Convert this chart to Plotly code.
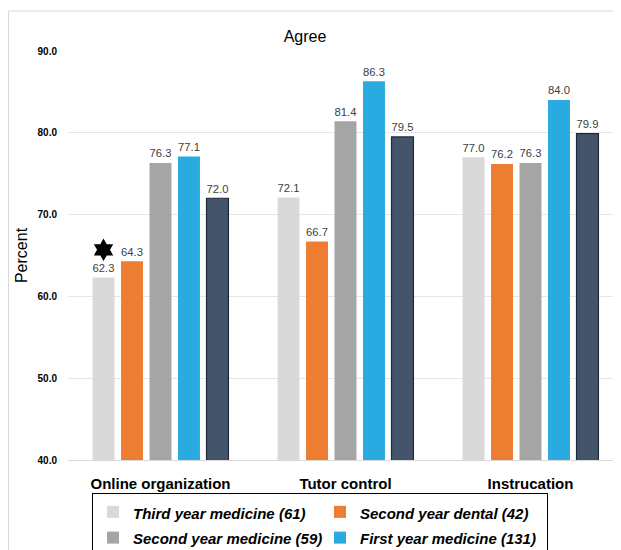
import plotly.graph_objects as go

categories = ["Online organization", "Tutor control", "Instrucation"]
series_names = ["Third year medicine (61)", "Second year dental (42)",
                "Second year medicine (59)", "First year medicine (131)", "Total (293)"]
third_med = [62.3, 72.1, 77.0]
second_dental = [64.3, 66.7, 76.2]
second_med = [76.3, 81.4, 76.3]
first_med = [77.1, 86.3, 84.0]
total = [72.0, 79.5, 79.9]
series_values = [third_med, second_dental, second_med, first_med, total]
colors = ["#D9D9D9", "#ED7D31", "#A5A5A5", "#29ABE2", "#44546A"]
show_leg = [True, True, True, True, False]
y_ticks = [40, 50, 60, 70, 80, 90]
star_group = 0
star_series = 0

bargap = 0.23
n = len(series_names)
xs = list(range(len(categories)))

fig = go.Figure()
for i, (name, vals) in enumerate(zip(series_names, series_values)):
    fig.add_trace(go.Bar(
        x=xs, y=vals, name=f"<span style='font-size:15px'>{name}</span>",
        marker_color=colors[i],
        marker_line_color="#1f2a38" if i == 4 else colors[i],
        marker_line_width=1.2 if i == 4 else 0,
        text=[f"{v:.1f}" for v in vals], textposition="outside",
        textfont=dict(size=13, color="#404040", family="Liberation Sans"),
        cliponaxis=False, showlegend=show_leg[i],
    ))

# significance star above first bar of first group
slot = (1 - bargap) / n
star_x = star_group - (1 - bargap) / 2 + slot * (star_series + 0.5)
star_y = series_values[star_series][star_group] + 3.4
fig.add_trace(go.Scatter(x=[star_x], y=[star_y], mode="markers",
                         marker=dict(symbol="hexagram", size=17, color="black"),
                         showlegend=False, hoverinfo="skip", cliponaxis=False))

W, H = 621, 600
fig.update_layout(
    width=W, height=H,
    barmode="group", bargap=bargap, bargroupgap=0.23,
    plot_bgcolor="white", paper_bgcolor="white",
    margin=dict(l=60, r=6, t=43, b=H - 452),
    font=dict(family="Liberation Sans", color="#000000"),
    title=dict(text="Agree", x=297 / W, xanchor="center", y=1 - 28 / H,
               yanchor="middle", font=dict(size=16, color="#000000")),
    xaxis=dict(range=[-0.5, 2.5], tickvals=xs, ticktext=categories,
               showgrid=False, zeroline=False, showline=True, linecolor="#D9D9D9",
               linewidth=1, ticks="", ticklen=0, automargin=False,
               ticklabelstandoff=10,
               tickfont=dict(size=15, weight="bold", color="#000000")),
    yaxis=dict(range=[40, 90], tickvals=y_ticks, tickformat=".1f",
               showgrid=True, gridcolor="#E6E6E6", gridwidth=1, zeroline=False,
               automargin=False,
               tickfont=dict(size=10, weight="bold", color="#000000"),
               title=dict(text="Percent", font=dict(size=16, color="#000000"), standoff=5),
               ticklabelstandoff=10),
    legend=dict(orientation="h", x=(92 - 68) / 555, xanchor="left",
                y=(460 - 493) / 409, yanchor="top",
                bordercolor="#000000", borderwidth=1, bgcolor="white",
                entrywidth=182, entrywidthmode="pixels",
                font=dict(size=17.5, style="italic", weight="bold", color="#000000"),
                itemwidth=30, tracegroupgap=0),
    shapes=[dict(type="rect", xref="paper", yref="paper",
                 x0=(8.5 - 68) / 555, x1=1.1, y0=-0.6, y1=(460 - 11) / 409,
                 line=dict(color="#D9D9D9", width=1), layer="below")],
)

fig.write_html("out.html")
